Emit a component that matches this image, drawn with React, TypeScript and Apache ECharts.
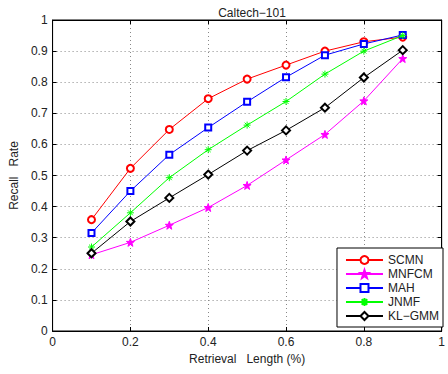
import React, { useEffect, useRef } from "react";
import * as echarts from "echarts";

const xValues = [0.1, 0.2, 0.3, 0.4, 0.5, 0.6, 0.7, 0.8, 0.9];
const seriesNames = ["SCMN", "MNFCM", "MAH", "JNMF", "KL\u2212GMM"];
const scmn = [0.358, 0.523, 0.648, 0.747, 0.81, 0.855, 0.9, 0.93, 0.945];
const mnfcm = [0.245, 0.285, 0.34, 0.397, 0.468, 0.55, 0.632, 0.74, 0.876];
const mah = [0.315, 0.45, 0.567, 0.654, 0.737, 0.816, 0.887, 0.923, 0.952];
const jnmf = [0.27, 0.38, 0.493, 0.583, 0.662, 0.738, 0.826, 0.9, 0.95];
const klgmm = [0.25, 0.352, 0.428, 0.503, 0.58, 0.645, 0.718, 0.815, 0.903];
const seriesValues = [scmn, mnfcm, mah, jnmf, klgmm];
const colors = ["#ff0000", "#ff00ff", "#0000ff", "#00ff00", "#000000"];

function starPath(): string {
  const pts: string[] = [];
  for (let i = 0; i < 10; i++) {
    const r = i % 2 === 0 ? 1 : 0.4;
    const a = -Math.PI / 2 + (i * Math.PI) / 5;
    pts.push(`${(r * Math.cos(a)).toFixed(3)},${(r * Math.sin(a)).toFixed(3)}`);
  }
  return "path://M" + pts.join("L") + "Z";
}
const asterisk =
  "path://M0,-1L0,1M-1,0L1,0M-0.7,-0.7L0.7,0.7M-0.7,0.7L0.7,-0.7";

const symbols = ["emptyCircle", starPath(), "emptyRect", asterisk, "emptyDiamond"];
const symbolSizes = [7, 8, 6, 7, 8];

const FONT = "Liberation Sans, Arial, sans-serif";

export default function App() {
  const ref = useRef<HTMLDivElement>(null);
  useEffect(() => {
    if (!ref.current) return;
    const chart = echarts.init(ref.current, undefined, { renderer: "svg" });
    const axisCommon = {
      min: 0,
      max: 1,
      interval: 0.1,
      axisLine: { show: true, onZero: false, lineStyle: { color: "#000", width: 1 } },
      axisTick: { show: true, inside: true, length: 4, lineStyle: { color: "#000" } },
    };
    const labelStyle = {
      fontSize: 12,
      color: "#222",
      margin: 5,
      fontFamily: FONT,
      formatter: (v: number) => String(Number(v.toFixed(1))),
    };
    const gridLine = { show: true, lineStyle: { color: "#888", type: [1, 3], width: 1 } };
    const mainSeries = seriesNames.map((name, i) => ({
      name,
      type: "line",
      xAxisIndex: 0,
      yAxisIndex: 0,
      data: xValues.map((x, j) => [x, seriesValues[i][j]]),
      symbol: symbols[i],
      symbolSize: symbolSizes[i],
      showAllSymbol: true,
      lineStyle: { color: colors[i], width: 1 },
      itemStyle: { color: colors[i], borderColor: colors[i], borderWidth: 1 },
      z: 2 + i,
    }));
    chart.setOption({
      animation: false,
      backgroundColor: "#fff",
      textStyle: { fontFamily: FONT },
      title: {
        text: "Caltech\u2212101",
        left: 247,
        textAlign: "center",
        top: 2,
        textStyle: { fontSize: 12, fontWeight: "normal", color: "#222", fontFamily: FONT },
      },
      grid: {
        left: 49,
        right: 2,
        top: 20,
        bottom: 43,
        containLabel: false,
        show: true,
        borderColor: "#000",
        borderWidth: 1,
        backgroundColor: "transparent",
      },
      xAxis: [
        {
          ...axisCommon,
          type: "value",
          interval: 0.2,
          position: "bottom",
          name: "Retrieval   Length (%)",
          nameLocation: "middle",
          nameGap: 21,
          nameTextStyle: { fontSize: 12, color: "#222", fontFamily: FONT },
          axisLabel: labelStyle,
          splitLine: gridLine,
        },
        {
          ...axisCommon,
          type: "value",
          interval: 0.2,
          position: "top",
          axisLabel: { show: false },
          splitLine: { show: false },
        },
      ],
      yAxis: [
        {
          ...axisCommon,
          type: "value",
          position: "left",
          name: "Recall   Rate",
          nameLocation: "middle",
          nameGap: 26,
          nameTextStyle: { fontSize: 12, color: "#222", fontFamily: FONT },
          axisLabel: labelStyle,
          splitLine: gridLine,
        },
        {
          ...axisCommon,
          type: "value",
          position: "right",
          axisLabel: { show: false },
          splitLine: { show: false },
        },
      ],
      legend: {
        orient: "vertical",
        right: 5,
        bottom: 47,
        itemWidth: 37,
        itemHeight: 10,
        itemGap: 2,
        padding: [6, 4, 5, 8],
        borderColor: "#000",
        borderWidth: 1,
        backgroundColor: "#fff",
        textStyle: { fontSize: 12, color: "#222", fontFamily: FONT },
        data: seriesNames,
      },
      series: [
        ...mainSeries,
        {
          type: "line",
          xAxisIndex: 1,
          yAxisIndex: 1,
          data: [],
          silent: true,
        },
      ],
    });
    return () => chart.dispose();
  }, []);
  return (
    <div
      ref={ref}
      style={{ position: "absolute", left: 0, top: 0, width: 448, height: 374 }}
    />
  );
}
